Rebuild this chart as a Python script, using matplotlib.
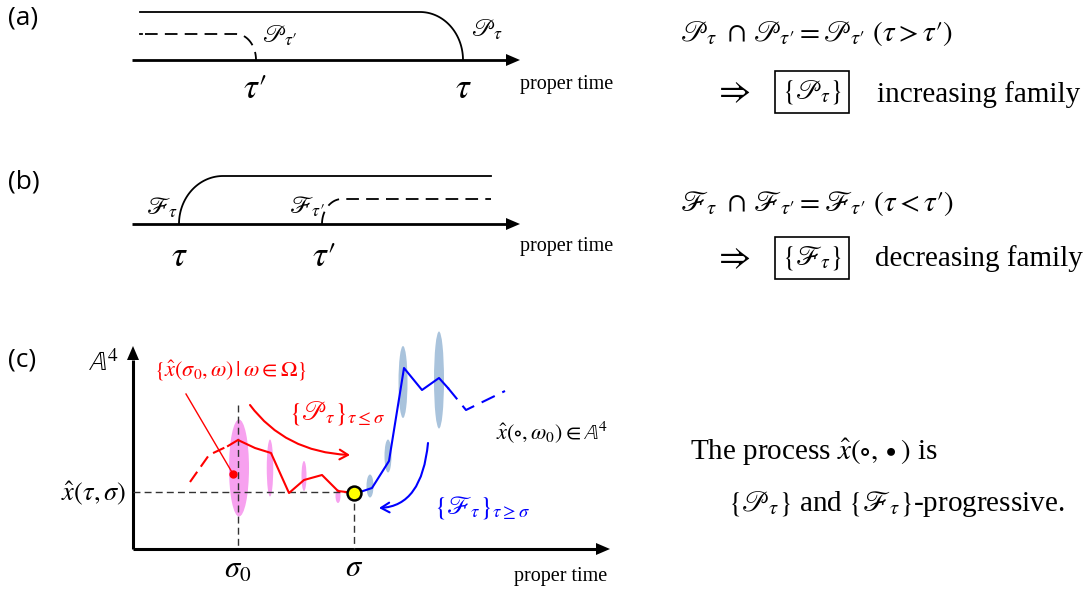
import numpy as np
import matplotlib
matplotlib.use("Agg")
import matplotlib.pyplot as plt
from matplotlib.patches import Ellipse, FancyArrowPatch, Polygon
from matplotlib.path import Path

plt.rcParams['font.family'] = ['Liberation Serif', 'DejaVu Serif']
plt.rcParams['mathtext.fontset'] = 'stix'

# ---- panel (a)/(b): filtration sketches (pixel units) ----
axis_a_y = 60
axis_b_y = 224
axis_x0, axis_x1 = 132, 520

# (a) past families: level y, line start x, arc start x, arc end x (on axis)
past_tau = dict(y=12, x0=140, x1=420, xe=463)
past_tau_p = dict(y=34, x0=140, x1=236, xe=256)
# (b) future families: arc start x (on axis), arc end x, level y, line end x
fut_tau = dict(xs=179, x0=223, y=176, x1=491)
fut_tau_p = dict(xs=322, x0=342, y=199, x1=491)

# ---- panel (c): process sketch ----
c_origin = (133, 549)
c_xtip = 610
c_ytip = 346
sigma0_x = 238
sigma_x = 354
level_y = 492

red_dash_x = [190, 209, 228]
red_dash_y = [482, 455, 446]
red_x = [228, 238, 255, 271, 289, 304, 322, 338, 354]
red_y = [446, 440, 448, 453, 493, 480, 475, 491, 493]

blue_x = [354, 360, 372, 389, 404, 422, 439, 448]
blue_y = [493, 492, 488, 461, 368, 390, 378, 388]
blue_dash_x = [448, 466, 505]
blue_dash_y = [388, 410, 391]

pink_cx = [239, 270, 304, 338]
pink_cy = [468, 468, 476, 496]
pink_w = [20, 6.5, 5, 5]
pink_h = [97, 57, 30, 14]

lb_cx = [370, 388, 403, 439]
lb_cy = [486, 456, 382, 380]
lb_w = [7, 7, 9, 10]
lb_h = [23, 33, 72, 97]

PR = '\u2032'  # prime

fig = plt.figure(figsize=(10.86, 5.92), dpi=100)
ax = fig.add_axes([0, 0, 1, 1])
ax.set_xlim(0, 1086)
ax.set_ylim(592, 0)
ax.axis('off')


def arrow_axis(x0, y0, x1, y1, lw=2.0, hl=14, hw=6):
    d = np.array([x1 - x0, y1 - y0], float)
    d /= np.hypot(*d)
    n = np.array([-d[1], d[0]])
    base = np.array([x1, y1]) - d * hl
    ax.plot([x0, base[0]], [y0, base[1]], color='black', lw=lw, solid_capstyle='butt')
    tri = [(x1, y1), tuple(base + n * hw), tuple(base - n * hw)]
    ax.add_patch(Polygon(tri, closed=True, color='black', lw=0))


th = np.linspace(0, np.pi / 2, 40)

# ---------------- (a) ----------------
ax.text(8, 18, '(a)', fontsize=19, family='Open Sans', va='center')
arrow_axis(axis_x0, axis_a_y, axis_x1, axis_a_y)
p = past_tau
xs = np.r_[p['x0'], p['x1'] + (p['xe'] - p['x1']) * np.sin(th)]
ys = np.r_[p['y'], axis_a_y - (axis_a_y - p['y']) * np.cos(th)]
ax.plot(xs, ys, color='black', lw=1.3)
p = past_tau_p
xs = np.r_[p['x0'] + 5, p['x1'] + (p['xe'] - p['x1']) * np.sin(th)]
ys = np.r_[p['y'], axis_a_y - (axis_a_y - p['y']) * np.cos(th)]
ax.plot(xs, ys, color='black', lw=1.3, linestyle=(0, (7, 4)))
ax.plot([p['x0'], p['x0'] + 2], [p['y'], p['y']], color='black', lw=1.3)
ax.text(262, 36, r'$\mathscr{P}_{\tau' + PR + '}$', fontsize=18, va='center')
ax.text(471, 30, r'$\mathscr{P}_{\tau}$', fontsize=18, va='center')
ax.text(255, 90, r'$\tau' + PR + '$', fontsize=25, ha='center', va='center')
ax.text(463, 90, r'$\tau$', fontsize=25, ha='center', va='center')
ax.text(520, 84, 'proper time', fontsize=14.5, va='center')

ax.text(680, 34, r'$\mathscr{P}_{\tau}\ \cap\,\mathscr{P}_{\tau' + PR + r'}=\mathscr{P}_{\tau' + PR
        + r'}\ (\tau>\tau' + PR + ')$', fontsize=21, va='center')
ax.text(713, 93, r'$\Rightarrow$', fontsize=25, va='center')
ax.text(782, 92, r'$\{\mathscr{P}_{\tau}\}$', fontsize=20, va='center',
        bbox=dict(boxstyle='square,pad=0.25', fc='white', ec='black', lw=1.2))
ax.text(877, 95, 'increasing family', fontsize=21, va='center')

# ---------------- (b) ----------------
ax.text(8, 182, '(b)', fontsize=19, family='Open Sans', va='center')
arrow_axis(axis_x0, axis_b_y, axis_x1, axis_b_y)
f = fut_tau
xs = np.r_[f['x0'] - (f['x0'] - f['xs']) * np.cos(th), f['x1']]
ys = np.r_[axis_b_y - (axis_b_y - f['y']) * np.sin(th), f['y']]
ax.plot(xs, ys, color='black', lw=1.3)
f = fut_tau_p
xs = np.r_[f['x0'] - (f['x0'] - f['xs']) * np.cos(th), f['x1']]
ys = np.r_[axis_b_y - (axis_b_y - f['y']) * np.sin(th), f['y']]
ax.plot(xs, ys, color='black', lw=1.3, linestyle=(0, (7, 4)))
ax.text(146, 208, r'$\mathscr{F}_{\tau}$', fontsize=18, va='center')
ax.text(289, 207, r'$\mathscr{F}_{\tau' + PR + '}$', fontsize=18, va='center')
ax.text(179, 258, r'$\tau$', fontsize=25, ha='center', va='center')
ax.text(324, 258, r'$\tau' + PR + '$', fontsize=25, ha='center', va='center')
ax.text(520, 246, 'proper time', fontsize=14.5, va='center')

ax.text(680, 204, r'$\mathscr{F}_{\tau}\ \cap\,\mathscr{F}_{\tau' + PR + r'}=\mathscr{F}_{\tau' + PR
        + r'}\ (\tau<\tau' + PR + ')$', fontsize=21, va='center')
ax.text(713, 259, r'$\Rightarrow$', fontsize=25, va='center')
ax.text(782, 258, r'$\{\mathscr{F}_{\tau}\}$', fontsize=20, va='center',
        bbox=dict(boxstyle='square,pad=0.25', fc='white', ec='black', lw=1.2))
ax.text(875, 259, 'decreasing family', fontsize=21, va='center')

# ---------------- (c) ----------------
ax.text(8, 360, '(c)', fontsize=19, family='Open Sans', va='center')
ox, oy = c_origin
arrow_axis(ox, oy, c_xtip, oy, lw=2.2)
arrow_axis(ox, oy, ox, c_ytip, lw=2.2)
ax.text(88, 364, r'$\mathbb{A}^{4}$', fontsize=20, va='center')

dash = (0, (5, 3))
ax.plot([ox, sigma_x], [level_y, level_y], color='#333333', lw=1.0, linestyle=dash)
ax.plot([sigma0_x, sigma0_x], [405, oy], color='#333333', lw=1.0, linestyle=dash)
ax.plot([sigma_x, sigma_x], [level_y, oy], color='#333333', lw=1.0, linestyle=dash)

for cx, cy, w, h in zip(pink_cx, pink_cy, pink_w, pink_h):
    ax.add_patch(Ellipse((cx, cy), w, h, color='#f7a1ef', lw=0))
for cx, cy, w, h in zip(lb_cx, lb_cy, lb_w, lb_h):
    ax.add_patch(Ellipse((cx, cy), w, h, color='#a9c3dc', lw=0))

ax.plot(red_dash_x, red_dash_y, color='red', lw=1.5, linestyle=(0, (6, 3)))
ax.plot(red_x, red_y, color='red', lw=1.5)
ax.plot(blue_x, blue_y, color='blue', lw=1.5)
ax.plot(blue_dash_x, blue_dash_y, color='blue', lw=1.5, linestyle=(0, (7, 4)))

ax.plot([233, 186], [474, 394], color='red', lw=1.0)
ax.plot([233], [474], 'o', color='red', ms=5)
ax.plot([sigma_x], [level_y + 1], 'o', mfc='#ffff00', mec='black', mew=1.8, ms=10)

red_arc = Path([(250, 405), (285, 452), (350, 455)], [Path.MOVETO, Path.CURVE3, Path.CURVE3])
ax.add_patch(FancyArrowPatch(path=red_arc, arrowstyle='->,head_length=6,head_width=3.5',
                             color='red', lw=1.5))
blue_arc = Path([(428, 443), (422, 506), (379, 508)], [Path.MOVETO, Path.CURVE3, Path.CURVE3])
ax.add_patch(FancyArrowPatch(path=blue_arc, arrowstyle='->,head_length=6,head_width=3.5',
                             color='blue', lw=1.5))

ax.text(154, 371, r'$\{\hat{x}(\sigma_0,\omega)\,|\,\omega\in\mathit{\Omega}\}$', fontsize=16,
        color='red', va='center')
ax.text(289, 414, r'$\{\mathscr{P}_{\tau}\}_{\tau\leq\sigma}$', fontsize=19, color='red', va='center')
ax.text(434, 508, r'$\{\mathscr{F}_{\tau}\}_{\tau\geq\sigma}$', fontsize=19, color='blue', va='center')
ax.text(496, 433, r'$\hat{x}(\circ,\omega_0)\in\mathbb{A}^{4}$', fontsize=16, va='center')
ax.text(126, 494, r'$\hat{x}(\tau,\sigma)$', fontsize=19, ha='right', va='center')
ax.text(sigma0_x, 570, r'$\sigma_0$', fontsize=22, ha='center', va='center')
ax.text(sigma_x, 568, r'$\sigma$', fontsize=22, ha='center', va='center')
ax.text(514, 577, 'proper time', fontsize=14.5, va='center')

ax.text(690, 452, r'The process $\hat{x}(\circ,\bullet)$ is', fontsize=21, va='center')
ax.text(728, 504, r'$\{\mathscr{P}_{\tau}\}$ and $\{\mathscr{F}_{\tau}\}$-progressive.', fontsize=21,
        va='center')

fig.savefig('out.png', dpi=100)
